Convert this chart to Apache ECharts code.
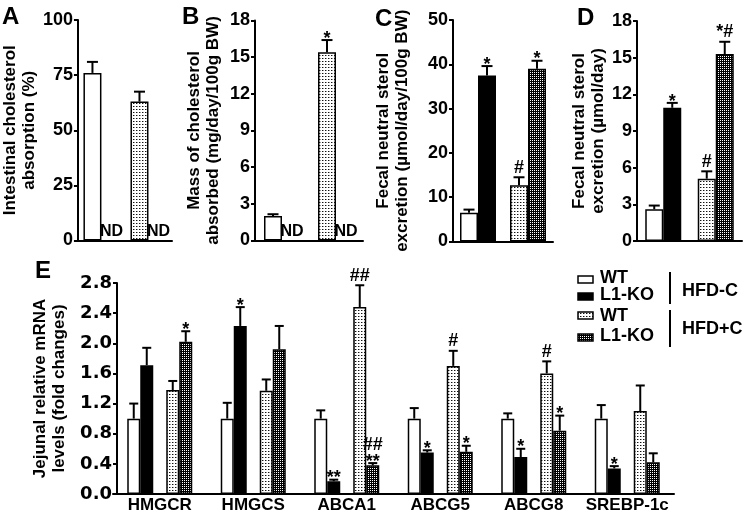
<!DOCTYPE html>
<html><head><meta charset="utf-8">
<script src="https://cdn.jsdelivr.net/npm/echarts@6/dist/echarts.min.js"></script>
<style>html,body{margin:0;padding:0;background:#fff}#c{width:745px;height:515px}</style>
</head><body><div id="c"></div>
<script>
// ---------------- DATA ----------------
const dietGroups = ['HFD-C', 'HFD+C'];
// Panel A: Intestinal cholesterol absorption (%)
const aWT = [76, 63];
const aWTerr = [81, 67.5];
const aWTsig = ['', ''];
const aKO = ['ND', 'ND'];
// Panel B: Mass of cholesterol absorbed (mg/day/100g BW)
const bWT = [2.0, 15.4];
const bWTerr = [2.15, 16.4];
const bWTsig = ['', '*'];
const bKO = ['ND', 'ND'];
// Panel C: Fecal neutral sterol excretion (umol/day/100g BW)
const cWT = [6.5, 12.7];
const cWTerr = [7.2, 14.5];
const cWTsig = ['', '#'];
const cKO = [37.5, 39.0];
const cKOerr = [39.6, 40.8];
const cKOsig = ['*', '*'];
// Panel D: Fecal neutral sterol excretion (umol/day)
const dWT = [2.6, 5.1];
const dWTerr = [2.9, 5.7];
const dWTsig = ['', '#'];
const dKO = [10.9, 15.3];
const dKOerr = [11.3, 16.3];
const dKOsig = ['*', '*#'];
// Panel E: Jejunal relative mRNA levels
const genes = ['HMGCR', 'HMGCS', 'ABCA1', 'ABCG5', 'ABCG8', 'SREBP-1c'];
const eWTminus = [1.0, 1.0, 1.0, 1.0, 1.0, 1.0];
const eWTminusErr = [1.20, 1.21, 1.11, 1.14, 1.07, 1.18];
const eWTminusSig = ['', '', '', '', '', ''];
const eKOminus = [1.71, 2.23, 0.17, 0.55, 0.49, 0.34];
const eKOminusErr = [1.94, 2.48, 0.19, 0.58, 0.60, 0.37];
const eKOminusSig = ['', '*', '**', '*', '*', '*'];
const eWTplus = [1.38, 1.37, 2.48, 1.70, 1.60, 1.10];
const eWTplusErr = [1.50, 1.52, 2.77, 1.90, 1.76, 1.44];
const eWTplusSig = ['', '', '##', '#', '#', ''];
const eKOplus = [2.02, 1.92, 0.38, 0.56, 0.84, 0.42];
const eKOplusErr = [2.16, 2.23, 0.41, 0.64, 1.04, 0.54];
const eKOplusSig = ['*', '', '##\n**', '*', '*', ''];

// ---------------- STYLE ----------------
const FONT = '"Liberation Sans", Arial, Helvetica, sans-serif';
const WIDEFONT = '"DejaVu Sans", "Liberation Sans", sans-serif';
function makePattern(kind) {
  const c = document.createElement('canvas');
  const g = c.getContext('2d');
  if (kind === 'dot') {
    c.width = 3; c.height = 3;
    g.fillStyle = '#fff'; g.fillRect(0, 0, 3, 3);
    g.fillStyle = '#111'; g.fillRect(1, 1, 1, 1);
    g.fillStyle = '#999'; g.fillRect(2, 1, 1, 1);
  } else {
    c.width = 2; c.height = 2;
    g.fillStyle = '#000'; g.fillRect(0, 0, 2, 2);
    g.fillStyle = '#fff'; g.fillRect(0, 0, 1, 1);
  }
  return { image: c, repeat: 'repeat' };
}
const DOT = makePattern('dot');
const CHK = makePattern('chk');
const FILL = { wtMinus: '#fff', koMinus: '#000', wtPlus: DOT, koPlus: CHK };

const grids = [
  { left: 66, top: 20, width: 106, height: 220.5 },
  { left: 255, top: 20.5, width: 108, height: 220 },
  { left: 453, top: 20, width: 100, height: 221.5 },
  { left: 637, top: 21, width: 105, height: 220 },
  { left: 113, top: 283, width: 561, height: 211 }
];

function xAx(gi, cats, showLabels) {
  return {
    type: 'category', gridIndex: gi, data: cats,
    axisLine: { show: true, lineStyle: { color: '#000', width: 2 } },
    axisTick: { show: false },
    axisLabel: { show: showLabels, color: '#000', fontFamily: FONT, fontWeight: 'bold', fontSize: 17, margin: 3, interval: 0 }
  };
}
function yAx(gi, max, interval, name, nameGap, fmt, fs, offset, labelFont) {
  return {
    type: 'value', gridIndex: gi, min: 0, max: max, interval: interval, offset: offset || 0,
    name: name, nameLocation: 'middle', nameRotate: 90, nameGap: nameGap,
    nameTextStyle: { color: '#000', fontFamily: FONT, fontWeight: 'bold', fontSize: 17, lineHeight: 19 },
    axisLine: { show: true, lineStyle: { color: '#000', width: 2 } },
    axisTick: { show: true, length: 4, lineStyle: { color: '#000', width: 2 } },
    axisLabel: { color: '#000', fontFamily: labelFont || FONT, fontWeight: 'bold', fontSize: fs, margin: 5, formatter: fmt },
    splitLine: { show: false }
  };
}

function bar(gi, name, stack, data, fill, bw) {
  return {
    type: 'bar', name: name, xAxisIndex: gi, yAxisIndex: gi, stack: stack, data: data,
    barWidth: bw, barGap: '0%', barCategoryGap: '0%',
    itemStyle: { color: fill, borderColor: '#000', borderWidth: 1.5 },
    emphasis: { disabled: true }, z: 2
  };
}

// error bars + significance marks, drawn through the axis scales
function errSeries(gi, means, errs, sigs, offset, capW) {
  const data = [];
  means.forEach((m, i) => { if (typeof m === 'number') data.push([i, m, errs[i]]); });
  return {
    type: 'custom', xAxisIndex: gi, yAxisIndex: gi, data: data, z: 5, silent: true,
    renderItem: function (params, api) {
      const i = api.value(0);
      const p0 = api.coord([i, api.value(1)]);
      const p1 = api.coord([i, api.value(2)]);
      const x = p0[0] + offset;
      const children = [
        { type: 'line', shape: { x1: x, y1: p0[1], x2: x, y2: p1[1] }, style: { stroke: '#000', lineWidth: 2 } },
        { type: 'line', shape: { x1: x - capW / 2, y1: p1[1], x2: x + capW / 2, y2: p1[1] }, style: { stroke: '#000', lineWidth: 2 } }
      ];
      const s = sigs[i];
      if (s) {
        const lines = s.split('\n');
        const last = lines[lines.length - 1];
        const fs = 18, lh = 17;
        const baseline = p1[1] + (last.indexOf('#') >= 0 ? -3 : 5);
        const yMid = baseline - 0.35 * fs;
        children.push({
          type: 'text',
          style: { text: s, x: x, y: yMid + lh / 2, font: 'bold ' + fs + 'px ' + FONT, fill: '#000',
                   align: 'center', verticalAlign: 'bottom', lineHeight: lh }
        });
      }
      return { type: 'group', children: children };
    }
  };
}
function ndSeries(gi, vals, offset) {
  const data = [];
  vals.forEach((v, i) => { if (v === 'ND') data.push([i, 0]); });
  return {
    type: 'custom', xAxisIndex: gi, yAxisIndex: gi, data: data, z: 5, silent: true,
    renderItem: function (params, api) {
      const p = api.coord([api.value(0), 0]);
      return { type: 'text', style: { text: 'ND', x: p[0] + offset, y: p[1] - 1, font: 'bold 16px ' + FONT,
               fill: '#000', align: 'center', verticalAlign: 'bottom' } };
    }
  };
}

function topPanel(gi, wt, wtErr, wtSig, ko, koErr, koSig) {
  const s = [];
  const sel = (arr, k) => arr.map((v, i) => (i === k && typeof v === 'number') ? v : '-');
  s.push(bar(gi, 'WT HFD-C', 'wt' + gi, sel(wt, 0), FILL.wtMinus, 18));
  s.push(bar(gi, 'WT HFD+C', 'wt' + gi, sel(wt, 1), FILL.wtPlus, 18));
  s.push(bar(gi, 'L1-KO HFD-C', 'ko' + gi, sel(ko, 0), FILL.koMinus, 18));
  s.push(bar(gi, 'L1-KO HFD+C', 'ko' + gi, sel(ko, 1), FILL.koPlus, 18));
  s.push(errSeries(gi, wt, wtErr, wtSig, -9, 11));
  if (koErr) s.push(errSeries(gi, ko, koErr, koSig, 9, 11));
  else s.push(ndSeries(gi, ko, 10));
  return s;
}

let series = [];
series = series.concat(topPanel(0, aWT, aWTerr, aWTsig, aKO));
series = series.concat(topPanel(1, bWT, bWTerr, bWTsig, bKO));
series = series.concat(topPanel(2, cWT, cWTerr, cWTsig, cKO, cKOerr, cKOsig));
series = series.concat(topPanel(3, dWT, dWTerr, dWTsig, dKO, dKOerr, dKOsig));
// Panel E
series.push(bar(4, 'WT HFD-C', null, eWTminus, FILL.wtMinus, 13));
series.push(bar(4, 'L1-KO HFD-C', null, eKOminus, FILL.koMinus, 13));
series.push({ type: 'bar', name: 'gap', xAxisIndex: 4, yAxisIndex: 4, data: genes.map(() => '-'), barWidth: 13, barGap: '0%', silent: true });
series.push(bar(4, 'WT HFD+C', null, eWTplus, FILL.wtPlus, 13));
series.push(bar(4, 'L1-KO HFD+C', null, eKOplus, FILL.koPlus, 13));
series.push(errSeries(4, eWTminus, eWTminusErr, eWTminusSig, -26, 9));
series.push(errSeries(4, eKOminus, eKOminusErr, eKOminusSig, -13, 9));
series.push(errSeries(4, eWTplus, eWTplusErr, eWTplusSig, 13, 9));
series.push(errSeries(4, eKOplus, eKOplusErr, eKOplusSig, 26, 9));

const txt = (t, x, y, fs, align) => ({ type: 'text', x: 0, y: 0, silent: true,
  style: { text: t, x: x, y: y, font: 'bold ' + fs + 'px ' + FONT, fill: '#000', align: align || 'left', verticalAlign: 'middle' } });
const ln = (x1, y1, x2, y2) => ({ type: 'line', silent: true, shape: { x1: x1, y1: y1, x2: x2, y2: y2 }, style: { stroke: '#000', lineWidth: 2 } });
const box = (y, fill) => ({ type: 'rect', silent: true, shape: { x: 578, y: y, width: 15, height: 7 }, style: { fill: fill, stroke: '#000', lineWidth: 1.5 } });

const option = {
  animation: false,
  backgroundColor: '#fff',
  grid: grids,
  xAxis: [xAx(0, dietGroups, false), xAx(1, dietGroups, false), xAx(2, dietGroups, false), xAx(3, dietGroups, false), xAx(4, genes, true)],
  yAxis: [
    yAx(0, 100, 25, 'Intestinal cholesterol\nabsorption (%)', 22, null, 18),
    yAx(1, 18, 3, 'Mass of cholesterol\nabsorbed (mg/day/100g BW)', 32, null, 18),
    yAx(2, 50, 10, 'Fecal neutral sterol\nexcretion (µmol/day/100g BW)', 41, null, 18),
    yAx(3, 18, 3, 'Fecal neutral sterol\nexcretion (µmol/day)', 22, null, 18),
    yAx(4, 2.8, 0.4, 'Jejunal relative mRNA\nlevels (fold changes)', 40, v => v.toFixed(1), 18, -4, WIDEFONT)
  ],
  series: series,
  graphic: [
    txt('A', 2, 17, 24), txt('B', 182, 17, 24), txt('C', 375, 19, 24), txt('D', 577, 18, 24), txt('E', 35, 271, 24),
    box(276, FILL.wtMinus), box(293, FILL.koMinus), box(312, FILL.wtPlus), box(334, FILL.koPlus),
    txt('WT', 600, 278, 18), txt('L1-KO', 600, 295, 18), txt('WT', 600, 316, 18), txt('L1-KO', 600, 336, 18),
    ln(670, 272, 670, 304), ln(670, 310, 670, 347),
    txt('HFD-C', 682, 291, 18), txt('HFD+C', 682, 329, 18)
  ]
};
const chart = echarts.init(document.getElementById('c'));
chart.setOption(option);
</script>
</body></html>
